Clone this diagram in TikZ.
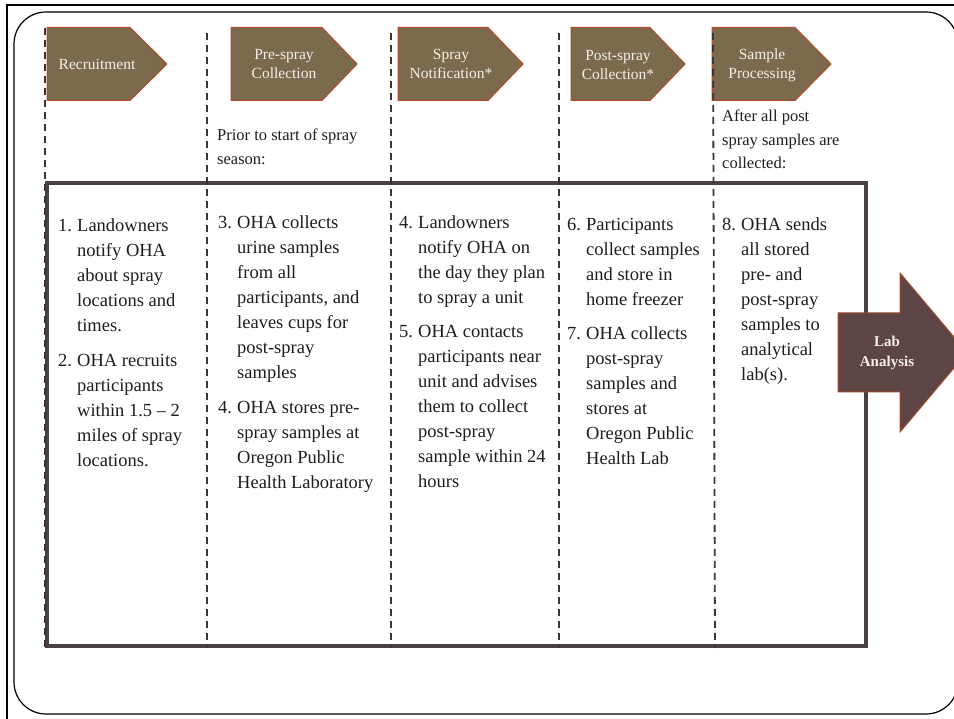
\documentclass[tikz,border=0pt]{standalone}
\usepackage{fontspec}
\setmainfont{Liberation Serif}
\definecolor{chevfill}{HTML}{7B6A4E}
\definecolor{chevline}{HTML}{B4472B}
\definecolor{labfill}{HTML}{5E4545}
\definecolor{labline}{HTML}{A3472B}
\definecolor{framegray}{HTML}{4A4143}
\definecolor{dashcol}{HTML}{3D3336}
\definecolor{chevtextcol}{HTML}{F3EFE6}
\definecolor{bodytext}{HTML}{1E1E1E}
\newcommand{\itm}[1]{\makebox[19pt][l]{#1}}
\newcommand{\cnt}{\hspace*{19pt}}
\newcommand{\chevpath}[3]{(#1,27.5) -- (#2,27.5) -- (#3,64) -- (#2,100.5) -- (#1,100.5) -- cycle}
\begin{document}
\begin{tikzpicture}[x=1pt,y=-1pt,
  chevbox/.style={fill=chevfill,draw=chevline,line width=1pt},
  chevtext/.style={text=chevtextcol,align=center,inner sep=0pt,font=\fontsize{15.5}{19}\selectfont},
  dashline/.style={draw=dashcol,line width=1.8pt,dash pattern=on 7pt off 5pt},
  bodycol/.style={anchor=base west,inner sep=0pt,text=bodytext,font=\fontsize{18.5}{25}\selectfont},
  captiontext/.style={anchor=base west,inner sep=0pt,text=bodytext,font=\fontsize{16.5}{23.5}\selectfont},
  labtext/.style={text=chevtextcol,align=center,inner sep=0pt,font=\fontsize{15}{20}\selectfont\bfseries}]
\useasboundingbox (0,0) rectangle (954,719);
\fill[white] (0,0) rectangle (954,719);
\begin{scope}
  \clip (0,0) rectangle (954,719);
  \draw[line width=2pt] (7,5) rectangle (990,750);
  \draw[line width=1.2pt,rounded corners=32pt] (14,12) rectangle (958,714);
\end{scope}
% main thick box
\draw[line width=4pt,draw=framegray] (47,183) rectangle (866,646);
% chevrons
\draw[chevbox] \chevpath{47}{130}{167};
\draw[chevbox] \chevpath{231}{322}{357};
\draw[chevbox] \chevpath{398}{488}{523};
\draw[chevbox] \chevpath{571}{650}{685};
\draw[chevbox] \chevpath{712}{795}{831};
\node[chevtext] (t1) at (97,64) {Recruitment};
\node[chevtext] (t2) at (284,64.5) {Pre-spray\\Collection};
\node[chevtext] (t3) at (451,63.5) {Spray\\Notification*};
\node[chevtext] (t4) at (618,65) {Post-spray\\Collection*};
\node[chevtext] (t5) at (762,65) {Sample\\Processing};
% dashed separators
\draw[dashline] (45,28) -- (45,650);
\draw[dashline] (207,33) -- (207,648);
\draw[dashline] (391,33) -- (391,648);
\draw[dashline] (559,33) -- (559,648);
\draw[dashline] (713,33) -- (715,648);
% captions
\node[captiontext] (cap1) at (217,141) {\begin{tabular}[t]{@{}l@{}}Prior to start of spray\\season:\end{tabular}};
\node[captiontext] (cap2) at (722,122) {\begin{tabular}[t]{@{}l@{}}After all post\\spray samples are\\collected:\end{tabular}};
% columns
\node[bodycol] (col1) at (58,232) {\begin{tabular}[t]{@{}l@{}}
\itm{1.}Landowners\\
\cnt notify OHA\\
\cnt about spray\\
\cnt locations and\\
\cnt times.\\[10pt]
\itm{2.}OHA recruits\\
\cnt participants\\
\cnt within 1.5 -- 2\\
\cnt miles of spray\\
\cnt locations.
\end{tabular}};
\node[bodycol] (col2) at (218,229) {\begin{tabular}[t]{@{}l@{}}
\itm{3.}OHA collects\\
\cnt urine samples\\
\cnt from all\\
\cnt participants, and\\
\cnt leaves cups for\\
\cnt post-spray\\
\cnt samples\\[10pt]
\itm{4.}OHA stores pre-\\
\cnt spray samples at\\
\cnt Oregon Public\\
\cnt Health Laboratory
\end{tabular}};
\node[bodycol] (col3) at (399,229) {\begin{tabular}[t]{@{}l@{}}
\itm{4.}Landowners\\
\cnt notify OHA on\\
\cnt the day they plan\\
\cnt to spray a unit\\[9pt]
\itm{5.}OHA contacts\\
\cnt participants near\\
\cnt unit and advises\\
\cnt them to collect\\
\cnt post-spray\\
\cnt sample within 24\\
\cnt hours
\end{tabular}};
\node[bodycol] (col4) at (567,231) {\begin{tabular}[t]{@{}l@{}}
\itm{6.}Participants\\
\cnt collect samples\\
\cnt and store in\\
\cnt home freezer\\[9pt]
\itm{7.}OHA collects\\
\cnt post-spray\\
\cnt samples and\\
\cnt stores at\\
\cnt Oregon Public\\
\cnt Health Lab
\end{tabular}};
\node[bodycol] (col5) at (722,231) {\begin{tabular}[t]{@{}l@{}}
\itm{8.}OHA sends\\
\cnt all stored\\
\cnt pre- and\\
\cnt post-spray\\
\cnt samples to\\
\cnt analytical\\
\cnt lab(s).
\end{tabular}};
% Lab analysis arrow
\draw[fill=labfill,draw=labline,line width=1pt] (838,313) -- (900,313) -- (900,273) -- (967,352.5) -- (900,432) -- (900,392) -- (838,392) -- cycle;
\node[labtext] (lab) at (887,353) {Lab\\Analysis};
\end{tikzpicture}
\end{document}
